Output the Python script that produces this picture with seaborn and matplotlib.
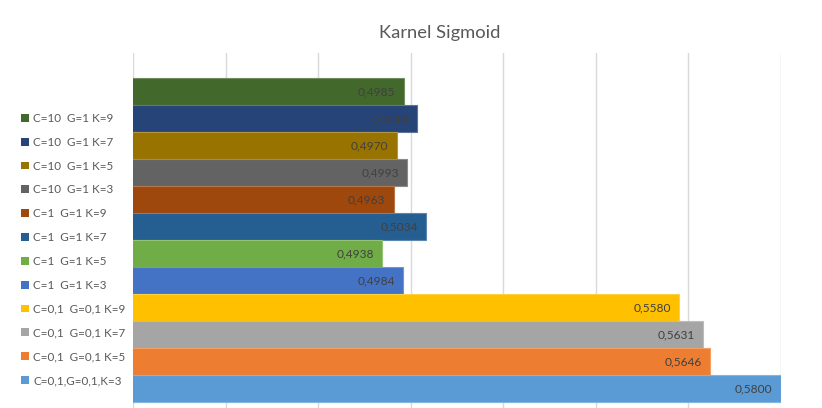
import matplotlib
matplotlib.use("Agg")
import matplotlib.pyplot as plt
from matplotlib.patches import Patch
from matplotlib.colors import to_rgb
import seaborn as sns
import pandas as pd

# Sigmoid-kernel accuracy for each C / gamma / K configuration (top to bottom)
configs = [
    "C=10  G=1 K=9",
    "C=10  G=1 K=7",
    "C=10  G=1 K=5",
    "C=10  G=1 K=3",
    "C=1  G=1 K=9",
    "C=1  G=1 K=7",
    "C=1  G=1 K=5",
    "C=1  G=1 K=3",
    "C=0,1  G=0,1 K=9",
    "C=0,1  G=0,1 K=7",
    "C=0,1  G=0,1 K=5",
    "C=0,1,G=0,1,K=3",
]
scores = [0.4985, 0.5014, 0.4970, 0.4993, 0.4963, 0.5034,
          0.4938, 0.4984, 0.5580, 0.5631, 0.5646, 0.5800]
colors = ["#43682B", "#264478", "#997300", "#636363", "#9E480E", "#255E91",
          "#70AD47", "#4472C4", "#FFC000", "#A5A5A5", "#ED7D31", "#5B9BD5"]
grid_ticks = [0.44, 0.46, 0.48, 0.50, 0.52, 0.54, 0.56, 0.58]

df = pd.DataFrame({"config": configs, "score": scores})

sns.set_theme(style="white")
plt.rcParams["font.family"] = ["Lato", "DejaVu Sans"]

W, H = 822, 408
fig = plt.figure(figsize=(W / 100, H / 100), dpi=100)
ax = fig.add_axes([133 / W, 0.0, (781 - 133) / W, (408 - 53) / H])

sns.barplot(data=df, x="score", y="config", hue="config", palette=colors,
            orient="h", width=0.97, saturation=1, legend=False, ax=ax,
            zorder=2)


def lighten(c, amt=0.25):
    r, g, b = to_rgb(c)
    return (r + (1 - r) * amt, g + (1 - g) * amt, b + (1 - b) * amt)


for patch, c in zip(ax.patches, colors):
    patch.set_edgecolor(lighten(c))
    patch.set_linewidth(0.8)

ax.set_xlim(grid_ticks[0], grid_ticks[-1])
ax.set_ylim(11.5 + 6 / 27, -0.5 - 25 / 27)
ax.set_xticks(grid_ticks)
ax.set_xticklabels([])
ax.set_yticks([])
ax.tick_params(length=0)
ax.set_xlabel("")
ax.set_ylabel("")
ax.grid(axis="x", color="#D9D9D9", linewidth=1.0, zorder=0)
ax.set_axisbelow(True)
for s in ax.spines.values():
    s.set_visible(False)

# Value labels inside the end of each bar
for patch, v in zip(ax.patches, scores):
    ax.annotate(f"{v:.4f}".replace(".", ","),
                (v, patch.get_y() + patch.get_height() / 2),
                xytext=(-6, 0), textcoords="offset points",
                ha="right", va="center", fontsize=8.6, color="#404040",
                zorder=3)

fig.text(440 / W, 1 - 33 / H, "Karnel Sigmoid", ha="center", va="center",
         fontsize=13.2, color="#595959")

handles = [Patch(facecolor=c, edgecolor="none") for c in colors]
fig.legend(handles, configs, loc="center left",
           bbox_to_anchor=(21 / W, 1 - 249.5 / H), frameon=False,
           fontsize=8.4, labelcolor="#595959", handlelength=0.65,
           handleheight=0.65, handletextpad=0.4, labelspacing=1.1,
           borderpad=0, borderaxespad=0)

fig.savefig("out.png", dpi=100)
